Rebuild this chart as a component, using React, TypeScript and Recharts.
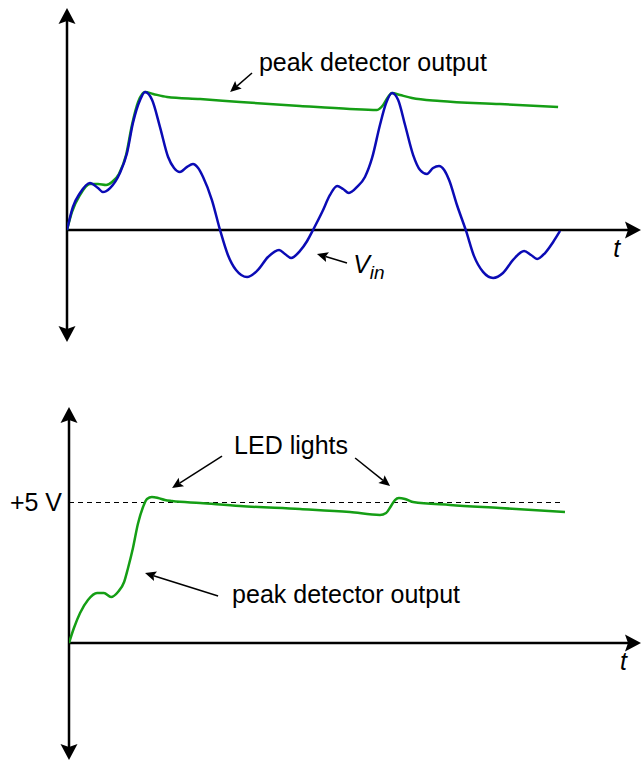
import React from "react";
import {
	LineChart,
	Line,
	XAxis,
	YAxis,
	ReferenceLine,
	ReferenceDot,
} from "recharts";

// top panel: time in periods of the input, voltage relative to the input peak
const TOP_T_MAX = 2.333;
const TOP_V_MIN = -0.812;
const TOP_V_MAX = 1.609;

const vinT = [
	0, 0.024, 0.053, 0.093, 0.126, 0.146, 0.175, 0.215, 0.244, 0.268, 0.297,
	0.317, 0.346, 0.378, 0.411, 0.435, 0.459, 0.488, 0.512, 0.533, 0.553, 0.589,
	0.622, 0.654, 0.687, 0.732, 0.772, 0.817, 0.862, 0.886, 0.911, 0.947, 0.976,
	1.0, 1.037, 1.069, 1.098, 1.122, 1.146, 1.179, 1.211, 1.24, 1.272, 1.297,
	1.321, 1.346, 1.374, 1.407, 1.435, 1.463, 1.488, 1.512, 1.533, 1.553, 1.585,
	1.622, 1.654, 1.691, 1.732, 1.772, 1.813, 1.858, 1.886, 1.911, 1.943, 1.976,
	2.004,
];
const vinV = [
	0, 0.167, 0.268, 0.341, 0.304, 0.275, 0.304, 0.413, 0.558, 0.775, 0.942, 1.0,
	0.942, 0.746, 0.529, 0.449, 0.42, 0.457, 0.478, 0.449, 0.384, 0.217, 0,
	-0.181, -0.29, -0.341, -0.297, -0.196, -0.145, -0.174, -0.203, -0.152,
	-0.08, 0, 0.13, 0.254, 0.319, 0.297, 0.268, 0.312, 0.384, 0.522, 0.761, 0.92,
	0.993, 0.942, 0.761, 0.543, 0.435, 0.406, 0.449, 0.464, 0.435, 0.362, 0.181,
	-0.007, -0.188, -0.304, -0.348, -0.312, -0.217, -0.152, -0.181, -0.21,
	-0.167, -0.087, -0.007,
];

const peakTopT = [
	0, 0.02, 0.053, 0.093, 0.126, 0.159, 0.183, 0.211, 0.24, 0.264, 0.289, 0.317,
	0.35, 0.407, 0.541, 0.703, 0.947, 1.15, 1.26, 1.285, 1.305, 1.321, 1.354,
	1.402, 1.516, 1.76, 1.996,
];
const peakTopV = [
	0, 0.13, 0.254, 0.333, 0.333, 0.326, 0.348, 0.406, 0.543, 0.761, 0.928, 1.0,
	0.986, 0.964, 0.949, 0.928, 0.899, 0.877, 0.87, 0.906, 0.964, 0.993, 0.978,
	0.957, 0.935, 0.913, 0.891,
];

// bottom panel: volts
const BOT_T_MAX = 2.325;
const BOT_V_MIN = -4.149;
const BOT_V_MAX = 8.369;
const LED_LEVEL = 5;

const peakBotT = [
	0, 0.02, 0.045, 0.077, 0.114, 0.142, 0.171, 0.199, 0.224, 0.24, 0.26, 0.28,
	0.301, 0.317, 0.337, 0.362, 0.39, 0.419, 0.533, 0.695, 0.939, 1.142, 1.264,
	1.289, 1.309, 1.325, 1.341, 1.366, 1.398, 1.549, 1.752, 2.016,
];
const peakBotV = [
	0, 0.532, 1.064, 1.525, 1.773, 1.773, 1.631, 1.809, 2.163, 2.66, 3.369, 4.22,
	4.823, 5.106, 5.177, 5.142, 5.071, 5.035, 4.965, 4.858, 4.752, 4.645, 4.539,
	4.61, 4.858, 5.071, 5.142, 5.106, 5.0, 4.894, 4.787, 4.645,
];

const zip = (t: number[], v: number[]) => t.map((x, i) => ({ t: x, v: v[i] }));

const vinData = zip(vinT, vinV);
const peakTopData = zip(peakTopT, peakTopV);
const peakBotData = zip(peakBotT, peakBotV);

const FONT = "'Liberation Sans', Arial, sans-serif";
const BLUE = "#0b0bb5";
const GREEN = "#159e15";

type ArrowOpts = {
	start?: boolean;
	end?: boolean;
	width: number;
	len: number;
	half: number;
	notch: number;
};

function headPoints(x: number, y: number, ux: number, uy: number, o: ArrowOpts) {
	const bx = x - ux * o.len;
	const by = y - uy * o.len;
	const nx = -uy;
	const ny = ux;
	const mx = x - ux * (o.len - o.notch);
	const my = y - uy * (o.len - o.notch);
	return `${x},${y} ${bx + nx * o.half},${by + ny * o.half} ${mx},${my} ${bx - nx * o.half},${by - ny * o.half}`;
}

// line with arrowheads, drawn from the reference line's own endpoints
const arrow = (o: ArrowOpts) => (props: any) => {
	const { x1, y1, x2, y2 } = props;
	const L = Math.hypot(x2 - x1, y2 - y1) || 1;
	const ux = (x2 - x1) / L;
	const uy = (y2 - y1) / L;
	const cut = o.len - o.notch;
	const sx = o.start ? x1 + ux * cut : x1;
	const sy = o.start ? y1 + uy * cut : y1;
	const ex = o.end ? x2 - ux * cut : x2;
	const ey = o.end ? y2 - uy * cut : y2;
	return (
		<g>
			<line x1={sx} y1={sy} x2={ex} y2={ey} stroke="#000" strokeWidth={o.width} />
			{o.end && <polygon points={headPoints(x2, y2, ux, uy, o)} fill="#000" />}
			{o.start && <polygon points={headPoints(x1, y1, -ux, -uy, o)} fill="#000" />}
		</g>
	);
};

const axisBoth = arrow({ start: true, end: true, width: 2.5, len: 16, half: 8.5, notch: 3 });
const axisEnd = arrow({ end: true, width: 2.5, len: 16, half: 8.5, notch: 3 });
const pointer = arrow({ end: true, width: 1.5, len: 11, half: 5, notch: 2 });

// thin dashed level line, snapped to the pixel grid so it stays crisp
const dashed = (props: any) => {
	const y = Math.round(props.y1) + 0.5;
	return (
		<line
			x1={props.x1}
			y1={y}
			x2={props.x2}
			y2={y}
			stroke="#000"
			strokeWidth={1}
			strokeDasharray="5 4"
		/>
	);
};

const label =
	(text: string, italic = false) =>
	(p: any) => (
		<text
			x={p.cx}
			y={p.cy}
			fontFamily={FONT}
			fontSize={25}
			fontStyle={italic ? "italic" : "normal"}
			fill="#000"
		>
			{text}
		</text>
	);

const vinLabel = (p: any) => (
	<text x={p.cx} y={p.cy} fontFamily={FONT} fontSize={25} fontStyle="italic" fill="#000">
		V
		<tspan fontSize={19} dy={6}>
			in
		</tspan>
	</text>
);

export default function App() {
	return (
		<div
			style={{
				position: "absolute",
				left: 0,
				top: 0,
				width: 641,
				height: 762,
				background: "#fff",
			}}
		>
			{/* Entrada y detector de pico */}
			<div style={{ position: "absolute", left: 0, top: 0 }}>
				<LineChart
					width={641}
					height={350}
					margin={{ top: 8, right: 0, bottom: 8, left: 67 }}
				>
					<XAxis
						type="number"
						dataKey="t"
						domain={[0, TOP_T_MAX]}
						allowDataOverflow
						hide
					/>
					<YAxis
						type="number"
						domain={[TOP_V_MIN, TOP_V_MAX]}
						allowDataOverflow
						hide
					/>
					<ReferenceLine
						segment={[
							{ x: 0, y: TOP_V_MIN },
							{ x: 0, y: TOP_V_MAX },
						]}
						ifOverflow="visible"
						shape={axisBoth}
					/>
					<ReferenceLine
						segment={[
							{ x: 0, y: 0 },
							{ x: TOP_T_MAX, y: 0 },
						]}
						ifOverflow="visible"
						shape={axisEnd}
					/>
					<Line
						data={peakTopData}
						dataKey="v"
						type="monotone"
						stroke={GREEN}
						strokeWidth={2.5}
						dot={false}
						isAnimationActive={false}
					/>
					<Line
						data={vinData}
						dataKey="v"
						type="monotone"
						stroke={BLUE}
						strokeWidth={2.5}
						dot={false}
						isAnimationActive={false}
					/>
					<ReferenceLine
						segment={[
							{ x: 0.752, y: 1.138 },
							{ x: 0.663, y: 1.0 },
						]}
						ifOverflow="visible"
						shape={pointer}
					/>
					<ReferenceDot x={0.78} y={1.152} r={0} ifOverflow="visible" shape={label("peak detector output")} />
					<ReferenceLine
						segment={[
							{ x: 1.138, y: -0.239 },
							{ x: 1.016, y: -0.174 },
						]}
						ifOverflow="visible"
						shape={pointer}
					/>
					<ReferenceDot x={1.163} y={-0.312} r={0} ifOverflow="visible" shape={vinLabel} />
					<ReferenceDot x={2.22} y={-0.196} r={0} ifOverflow="visible" shape={label("t", true)} />
				</LineChart>
			</div>

			{/* Salida con nivel del LED */}
			<div style={{ position: "absolute", left: 0, top: 400 }}>
				<LineChart
					width={641}
					height={362}
					margin={{ top: 7, right: 0, bottom: 2, left: 0 }}
				>
					<XAxis
						type="number"
						dataKey="t"
						domain={[0, BOT_T_MAX]}
						allowDataOverflow
						hide
					/>
					<YAxis
						type="number"
						width={69}
						domain={[BOT_V_MIN, BOT_V_MAX]}
						allowDataOverflow
						ticks={[LED_LEVEL]}
						tickFormatter={(v) => `+${v} V`}
						axisLine={false}
						tickLine={false}
						tickMargin={1}
						tick={{ fill: "#000", fontSize: 25, fontFamily: FONT }}
					/>
					<ReferenceLine
						segment={[
							{ x: 0, y: LED_LEVEL },
							{ x: 1.996, y: LED_LEVEL },
						]}
						ifOverflow="visible"
						shape={dashed}
					/>
					<ReferenceLine
						segment={[
							{ x: 0, y: BOT_V_MIN },
							{ x: 0, y: BOT_V_MAX },
						]}
						ifOverflow="visible"
						shape={axisBoth}
					/>
					<ReferenceLine
						segment={[
							{ x: 0, y: 0 },
							{ x: BOT_T_MAX, y: 0 },
						]}
						ifOverflow="visible"
						shape={axisEnd}
					/>
					<Line
						data={peakBotData}
						dataKey="v"
						type="monotone"
						stroke={GREEN}
						strokeWidth={2.5}
						dot={false}
						isAnimationActive={false}
					/>
					<ReferenceDot x={0.671} y={6.702} r={0} ifOverflow="visible" shape={label("LED lights")} />
					<ReferenceLine
						segment={[
							{ x: 0.622, y: 6.631 },
							{ x: 0.419, y: 5.496 },
						]}
						ifOverflow="visible"
						shape={pointer}
					/>
					<ReferenceLine
						segment={[
							{ x: 1.163, y: 6.56 },
							{ x: 1.305, y: 5.567 },
						]}
						ifOverflow="visible"
						shape={pointer}
					/>
					<ReferenceDot x={0.663} y={1.418} r={0} ifOverflow="visible" shape={label("peak detector output")} />
					<ReferenceLine
						segment={[
							{ x: 0.606, y: 1.667 },
							{ x: 0.309, y: 2.482 },
						]}
						ifOverflow="visible"
						shape={pointer}
					/>
					<ReferenceDot x={2.24} y={-0.957} r={0} ifOverflow="visible" shape={label("t", true)} />
				</LineChart>
			</div>
		</div>
	);
}
